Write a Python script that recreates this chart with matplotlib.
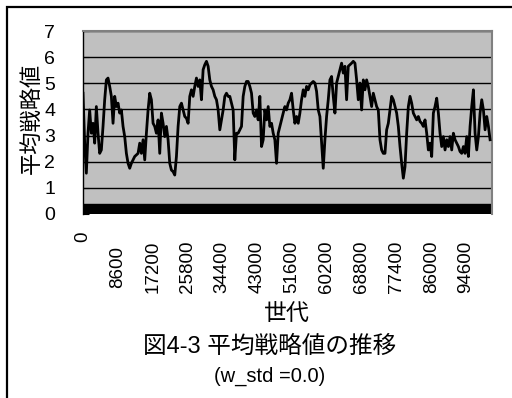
import numpy as np
import matplotlib
matplotlib.use('Agg')
import matplotlib.pyplot as plt
from matplotlib.patches import Rectangle

plt.rcParams['font.family'] = ['Liberation Sans', 'Noto Sans CJK JP', 'DejaVu Sans']

# mean strategy value, recorded every GEN_STEP generations
GEN_STEP = 412
mean_strategy = [
    4.62, 2.71, 1.56, 3.09, 3.98, 3.09, 3.47, 2.71, 4.11, 3.09,
    2.32, 2.45, 3.35, 4.37, 5.13, 5.20, 4.88, 4.50, 3.47, 4.50,
    4.11, 4.24, 3.86, 3.98, 3.35, 2.96, 2.32, 1.94, 1.75, 1.94,
    2.07, 2.20, 2.26, 2.32, 2.71, 2.32, 2.84, 2.07, 3.09, 3.98,
    4.62, 4.37, 3.47, 3.35, 3.09, 3.60, 2.32, 3.86, 3.47, 2.96,
    3.35, 2.84, 1.94, 1.68, 1.62, 1.49, 2.20, 3.35, 4.11, 4.24,
    3.98, 3.73, 3.66, 3.47, 4.50, 4.75, 4.50, 4.88, 5.20, 4.88,
    5.13, 4.37, 5.52, 5.71, 5.84, 5.65, 5.13, 4.88, 4.75, 4.50,
    4.37, 3.98, 3.22, 3.60, 3.98, 4.50, 4.62, 4.50, 4.50, 4.24,
    3.98, 2.07, 3.09, 3.09, 3.22, 3.35, 4.50, 4.88, 5.07, 5.07,
    4.88, 4.62, 3.86, 3.73, 3.98, 3.60, 4.50, 2.58, 2.84, 3.98,
    3.60, 4.11, 3.35, 3.47, 3.09, 2.84, 1.94, 3.09, 3.35, 3.60,
    3.86, 4.11, 3.98, 4.24, 4.37, 4.62, 3.98, 3.47, 3.73, 3.47,
    3.86,
    4.37, 4.75, 4.50, 4.88, 4.75, 4.94, 5.01, 5.07, 5.01, 4.69,
    3.98, 3.73, 2.71, 1.75, 2.84, 3.73, 4.37, 5.13, 5.26, 4.50,
    3.86, 5.01, 5.26, 5.52, 5.77, 5.39, 5.65, 4.37, 5.65, 5.71,
    5.77, 5.84, 5.77, 5.13, 4.37, 5.01, 3.98, 5.13, 4.75, 5.13,
    4.88, 4.50, 4.11, 4.62, 4.37, 4.11, 3.98, 2.84, 2.45, 2.32,
    2.32, 3.22, 3.47, 3.98, 4.50, 4.37, 4.11, 3.86, 3.35, 2.58,
    1.94, 1.37, 1.81, 3.09, 4.11, 4.50, 4.24, 3.86, 3.73, 3.60,
    3.73, 3.54, 3.47, 3.35, 3.60, 3.09, 2.45, 2.71, 2.20, 3.86,
    4.11, 4.43, 3.86, 3.09, 2.58, 2.96, 2.45, 2.84, 2.58, 2.96,
    2.45, 3.09, 2.84, 2.71, 2.58, 2.39, 2.32, 2.58, 2.32, 2.96,
    2.20, 3.35, 4.11, 4.75, 3.09, 2.45, 2.96, 3.86, 4.37, 3.98,
    3.22, 3.73, 3.35, 2.84,
]
generations = np.arange(len(mean_strategy)) * GEN_STEP

x_ticks = [0, 8600, 17200, 25800, 34400, 43000, 51600, 60200, 68800, 77400, 86000, 94600]
y_ticks = [0, 1, 2, 3, 4, 5, 6, 7]

fig = plt.figure(figsize=(5.12, 3.98), dpi=100)
ax = fig.add_axes([83 / 512, 1 - 214 / 398, 409 / 512, 183 / 398])
ax.set_facecolor('#c0c0c0')

ax.set_xlim(0, 101000)
ax.set_ylim(0, 7)
ax.set_yticks(y_ticks)
ax.yaxis.grid(True, color='black', linewidth=1)
ax.set_axisbelow(True)

# dense category ticks along the bottom
ax.axhspan(0, 0.38, color='black', zorder=2)

ax.plot(generations, mean_strategy, color='black', linewidth=2.0, zorder=3)

ax.tick_params(axis='y', direction='in', length=4, labelsize=14, pad=20, color='black')
ax.set_xticks([])
tr = ax.get_xaxis_transform()
for i, t in enumerate(x_ticks):
    if i == 0:
        ax.text(t, -0.098, str(t), transform=tr, rotation=90, ha='center', va='top', fontsize=13.5)
    else:
        ax.text(t, -0.29, str(t), transform=tr, rotation=90, ha='center', va='center', fontsize=13.5)

for side in ['top', 'right']:
    ax.spines[side].set_color('#808080')
    ax.spines[side].set_linewidth(1.5)
ax.spines['left'].set_color('black')
ax.spines['left'].set_linewidth(1)
ax.spines['bottom'].set_visible(False)

ax.set_ylabel('平均戦略値', fontsize=16)
ax.yaxis.set_label_coords(-0.125, 0.525)
ax.set_xlabel('世代', fontsize=16.5)
ax.xaxis.set_label_coords(0.499, -0.546)
ax.xaxis.label.set_va('center')
ax.yaxis.label.set_va('center')

fig.text(270 / 512, 1 - 347 / 398, '図4-3 平均戦略値の推移', ha='center', va='center', fontsize=17)
fig.text(270 / 512, 1 - 376 / 398, '(w_std =0.0)', ha='center', va='center', fontsize=14.5)

# outer chart frame
fig.add_artist(Rectangle((7 / 512, -0.1), 1.2, 1.1 - 7 / 398, transform=fig.transFigure,
                         fill=False, edgecolor='black', linewidth=1.6, clip_on=False))

fig.savefig('out.png', dpi=100)
